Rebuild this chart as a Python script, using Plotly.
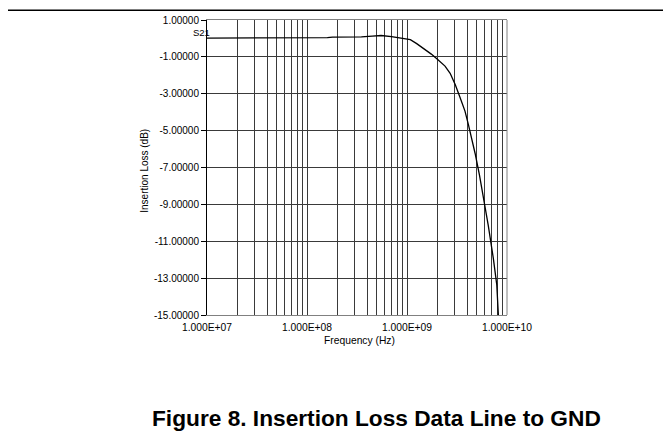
import plotly.graph_objects as go

# ---- data ----
series_name = "S21"
freq_hz = [1e7, 2e7, 4e7, 7e7, 8e7, 1.2e8, 1.6e8, 1.8e8, 2.5e8, 3.5e8, 4.5e8,
           5.5e8, 7e8, 8.5e8, 1.08e9, 1.25e9, 1.47e9, 1.75e9, 2.0e9, 2.4e9,
           2.7e9, 3.04e9, 3.4e9, 3.8e9, 4.1e9, 4.6e9, 4.8e9, 5.3e9, 5.8e9,
           6.5e9, 7.3e9, 7.9e9, 8.2e9]
loss_db = [0.02, 0.02, 0.02, 0.02, 0.04, 0.04, 0.04, 0.07, 0.07, 0.08, 0.13,
           0.16, 0.10, 0.03, -0.07, -0.28, -0.55, -0.85, -1.12, -1.50,
           -1.89, -2.51, -3.22, -3.94, -4.65, -5.72, -6.24, -7.40, -8.55,
           -10.15, -11.93, -13.35, -15.0]

x_tick_vals = [1e7, 1e8, 1e9, 1e10]
x_tick_text = ["1.000E+07", "1.000E+08", "1.000E+09", "1.000E+10"]
y_tick_vals = [1, -1, -3, -5, -7, -9, -11, -13, -15]
y_tick_text = ["1.00000", "-1.00000", "-3.00000", "-5.00000", "-7.00000",
               "-9.00000", "-11.00000", "-13.00000", "-15.00000"]

x_title = "Frequency (Hz)"
y_title = "Insertion Loss (dB)"
fig_caption = "Figure 8. Insertion Loss Data Line to GND"

FONT = "Liberation Sans, Arial, sans-serif"
GRID = "#3a3a3a"

# minor (2..9 per decade) gridline positions for the log axis
minor_vals = [d * m for d in x_tick_vals[:-1] for m in range(2, 10)]

fig = go.Figure()
fig.add_trace(go.Scatter(x=freq_hz, y=loss_db, mode="lines", name=series_name,
                         line=dict(color="black", width=1.3), showlegend=False))

fig.update_layout(
    width=671, height=433,
    margin=dict(l=199, r=172, t=6, b=126, pad=0),
    paper_bgcolor="white", plot_bgcolor="white",
    font=dict(family=FONT, color="black", size=10),
    xaxis=dict(type="log", range=[7, 10], tickmode="array",
               tickvals=x_tick_vals, ticktext=x_tick_text,
               showgrid=True, gridcolor=GRID, gridwidth=1,
               minor=dict(tickmode="array", tickvals=minor_vals, showgrid=True,
                          gridcolor=GRID, gridwidth=1, ticks=""),
               showline=True, linecolor="#808080", linewidth=1, mirror=True,
               ticks="", tickfont=dict(size=10.3), ticklabelstandoff=3,
               zeroline=False),
    yaxis=dict(range=[-15, 1], tickmode="array", tickvals=y_tick_vals,
               ticktext=y_tick_text, showgrid=True, gridcolor=GRID, gridwidth=1,
               showline=True, linecolor="black", linewidth=1,
               ticks="outside", ticklen=5, tickcolor="black",
               tickfont=dict(size=10), zeroline=False),
    showlegend=False,
)

# right frame edge (gray)
fig.add_shape(type="line", xref="paper", yref="paper", x0=1, x1=1, y0=0, y1=1,
              line=dict(color="#808080", width=1))
# top rule across the page
fig.add_shape(type="line", xref="paper", yref="paper", x0=-0.72, x1=1.6,
              y0=1.033, y1=1.033, line=dict(color="black", width=1.6))

# series label
fig.add_annotation(x=7, y=loss_db[0], xref="x", yref="y", text=series_name,
                   showarrow=False, xanchor="right", yanchor="bottom",
                   xshift=5, yshift=-2, font=dict(size=9.5))

# axis titles
fig.add_annotation(x=-0.209, y=0.49, xref="paper", yref="paper", text=y_title,
                   showarrow=False, textangle=-90, xanchor="center",
                   yanchor="middle", font=dict(size=10))
fig.add_annotation(x=0.508, y=-0.087, xref="paper", yref="paper", text=x_title,
                   showarrow=False, xanchor="center", yanchor="middle",
                   font=dict(size=10.3))

# caption
fig.add_annotation(x=0.564, y=-0.3475, xref="paper", yref="paper",
                   text="<b>" + fig_caption + "</b>", showarrow=False,
                   xanchor="center", yanchor="middle", font=dict(size=22.7))

fig.write_html("out.html")
